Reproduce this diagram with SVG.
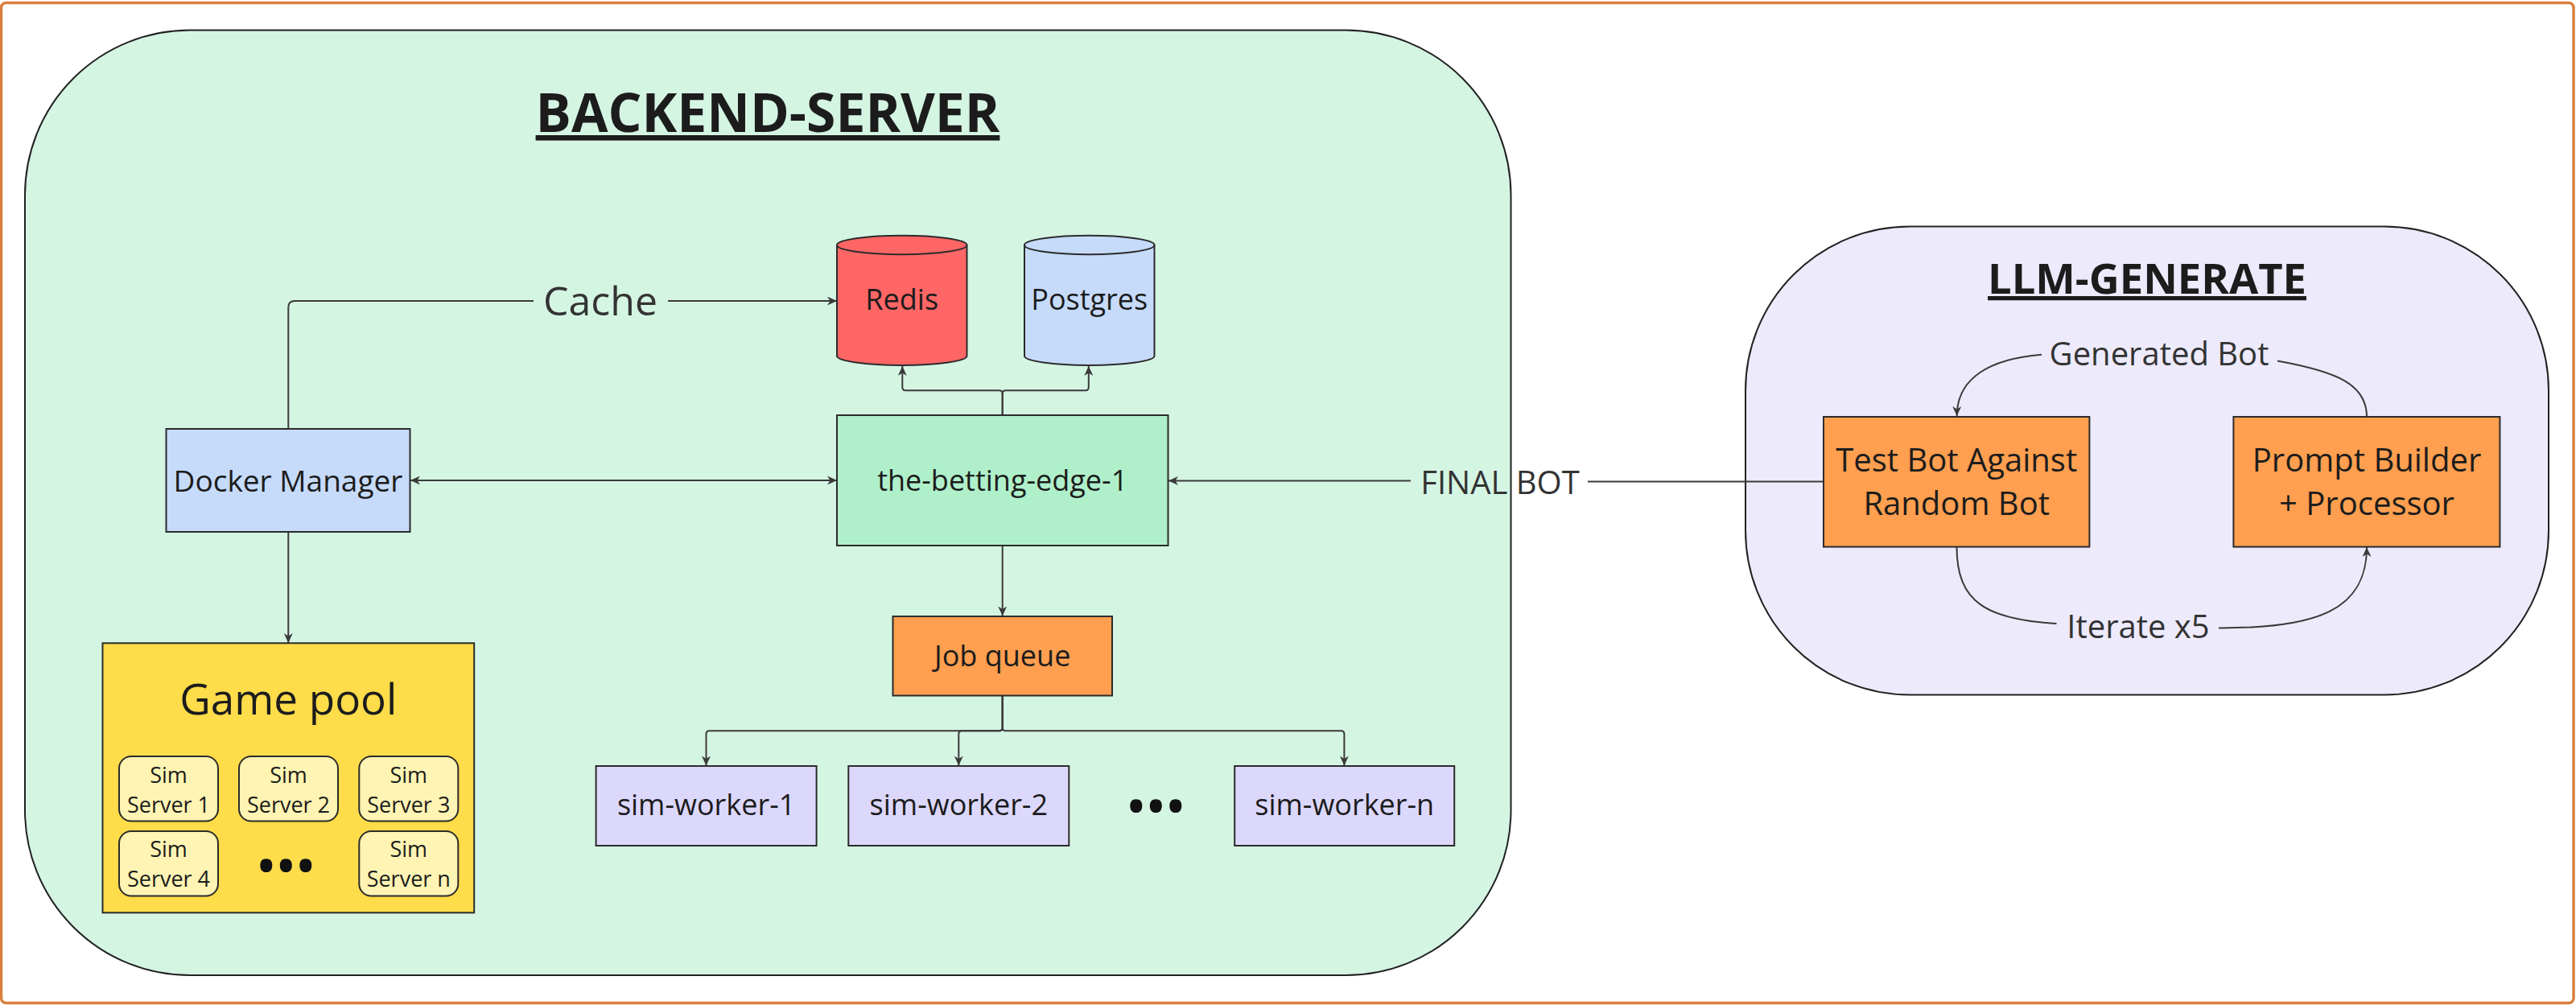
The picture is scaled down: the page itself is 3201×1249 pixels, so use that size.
<svg xmlns="http://www.w3.org/2000/svg" width="3201" height="1249" viewBox="0 0 3201 1249">
<style>
text{font-family:"Open Sans","Noto Sans","Liberation Sans",sans-serif;fill:#1c1c1c}
.box{stroke:#2b2b2b;stroke-width:2}
.n36{font-size:36px;text-anchor:middle}
.sim{font-size:27px;text-anchor:middle}
.lbl{font-size:40px;text-anchor:middle;fill:#333}
.title{font-weight:bold;text-anchor:middle;text-decoration:underline}
.dots{font-size:72px;letter-spacing:-2.6px;text-anchor:middle;fill:#111}
.edge{fill:none;stroke:#3a3a3a;stroke-width:2}
</style>
<defs>
<marker id="arr" markerWidth="13" markerHeight="11" refX="12" refY="5.5" orient="auto-start-reverse" markerUnits="userSpaceOnUse">
<path d="M0,0 L12,5.5 L0,11 L3.5,5.5 Z" fill="#3a3a3a"/>
</marker>
</defs>
<rect x="0" y="0" width="3201" height="1249" fill="#ffffff"/>
<rect id="frame" x="1.5" y="3.5" width="3196.5" height="1243" rx="6" fill="#ffffff" stroke="#D97F3E" stroke-width="3.5"/>

<g id="backend-server">
<rect x="31" y="37.5" width="1846.5" height="1174.5" rx="205" fill="#D5F5E3" stroke="#222" stroke-width="2"/>
<text class="title" x="954" y="164" style="font-size:66px">BACKEND-SERVER</text>
</g>

<g id="llm-generate">
<rect x="2169" y="281.5" width="998" height="582" rx="204" fill="#EDEAFC" stroke="#222" stroke-width="2"/>
<text class="title" x="2668" y="365" style="font-size:52.5px">LLM-GENERATE</text>
</g>

<g id="connectors">
<path class="edge" d="M358.3 533 V382 Q358.3 374 366.3 374 H663"/>
<path class="edge" d="M830 374 H1040" marker-end="url(#arr)"/>
<path class="edge" d="M510 597 H1040" marker-start="url(#arr)" marker-end="url(#arr)"/>
<path class="edge" d="M358.3 661 V799" marker-end="url(#arr)"/>
<path class="edge" d="M1245.7 516 V489.3 Q1245.7 485.3 1241.7 485.3 H1125.3 Q1121.3 485.3 1121.3 481.3 V455" marker-end="url(#arr)"/>
<path class="edge" d="M1245.7 516 V489.3 Q1245.7 485.3 1249.7 485.3 H1348.8 Q1352.8 485.3 1352.8 481.3 V455" marker-end="url(#arr)"/>
<path class="edge" d="M1245.7 678 V765.5" marker-end="url(#arr)"/>
<path class="edge" d="M1245.7 864.5 V904.3 Q1245.7 908.3 1241.7 908.3 H881.5 Q877.5 908.3 877.5 912.3 V951.5" marker-end="url(#arr)"/>
<path class="edge" d="M1245.7 864.5 V904.3 Q1245.7 908.3 1241.7 908.3 H1195.3 Q1191.3 908.3 1191.3 912.3 V951.5" marker-end="url(#arr)"/>
<path class="edge" d="M1245.7 864.5 V904.3 Q1245.7 908.3 1249.7 908.3 H1666.4 Q1670.4 908.3 1670.4 912.3 V951.5" marker-end="url(#arr)"/>
<path class="edge" d="M2266 598.5 H1973"/>
<path class="edge" d="M1753 597.5 H1452" marker-end="url(#arr)"/>
<path class="edge" d="M2941 518 C2941 478 2905 462 2830 448.5"/>
<path class="edge" d="M2537 440.7 C2472 446 2431.7 470 2431.7 517" marker-end="url(#arr)"/>
<path class="edge" d="M2431.5 680 C2431.5 748 2468 770 2555.5 775"/>
<path class="edge" d="M2757 780.4 C2880 781 2941 758 2941 680" marker-end="url(#arr)"/>
<text class="lbl" x="746" y="392" style="font-size:50px">Cache</text>
<text class="lbl" x="1864" y="614">FINAL BOT</text>
<text class="lbl" x="2683" y="454">Generated Bot</text>
<text class="lbl" x="2657" y="793">Iterate x5</text>
</g>

<g id="docker-manager">
<rect class="box" x="206.5" y="533" width="303" height="128" fill="#C6DBFA"/>
<text class="n36" x="358" y="611" style="font-size:37px">Docker Manager</text>
</g>

<g id="redis">
<path class="box" d="M1040 304.5 A80.75 11.7 0 0 1 1201.5 304.5 V442.3 A80.75 11.7 0 0 1 1040 442.3 Z" fill="#FF6666"/>
<path class="box" d="M1040 304.5 A80.75 11.7 0 0 0 1201.5 304.5" fill="none"/>
<text class="n36" x="1120.7" y="385">Redis</text>
</g>

<g id="postgres">
<path class="box" d="M1273 304.5 A80.75 11.7 0 0 1 1434.5 304.5 V442.3 A80.75 11.7 0 0 1 1273 442.3 Z" fill="#C6DBFA"/>
<path class="box" d="M1273 304.5 A80.75 11.7 0 0 0 1434.5 304.5" fill="none"/>
<text class="n36" x="1353.7" y="385">Postgres</text>
</g>

<g id="the-betting-edge-1">
<rect class="box" x="1040" y="516" width="411.5" height="162" fill="#AFF0CA"/>
<text class="n36" x="1245.7" y="610">the-betting-edge-1</text>
</g>

<g id="job-queue">
<rect class="box" x="1109.5" y="766" width="272.5" height="98.5" fill="#FF9F4F"/>
<text class="n36" x="1245.7" y="828">Job queue</text>
</g>

<g id="sim-worker-1">
<rect class="box" x="740.6" y="952" width="274" height="99" fill="#DCD8FC"/>
<text class="n36" x="877.6" y="1013">sim-worker-1</text>
</g>
<g id="sim-worker-2">
<rect class="box" x="1054.3" y="952" width="274" height="99" fill="#DCD8FC"/>
<text class="n36" x="1191.3" y="1013">sim-worker-2</text>
</g>
<g id="worker-dots">
<text class="dots" x="1435" y="1028">•••</text>
</g>
<g id="sim-worker-n">
<rect class="box" x="1534.2" y="952" width="273" height="99" fill="#DCD8FC"/>
<text class="n36" x="1670.7" y="1013">sim-worker-n</text>
</g>

<g id="game-pool">
<rect class="box" x="127.5" y="799.3" width="461.7" height="335" fill="#FFDC4A"/>
<text x="358.3" y="887.6" font-size="53" text-anchor="middle">Game pool</text>
<g id="sim-server-1">
<rect class="box" x="148" y="940" width="123" height="80.5" rx="15" fill="#FFF4B3"/>
<text class="sim" x="209.5" y="972.5">Sim</text>
<text class="sim" x="209.5" y="1009.5">Server 1</text>
</g>
<g id="sim-server-2">
<rect class="box" x="297" y="940" width="123" height="80.5" rx="15" fill="#FFF4B3"/>
<text class="sim" x="358.5" y="972.5">Sim</text>
<text class="sim" x="358.5" y="1009.5">Server 2</text>
</g>
<g id="sim-server-3">
<rect class="box" x="446.3" y="940" width="123" height="80.5" rx="15" fill="#FFF4B3"/>
<text class="sim" x="507.8" y="972.5">Sim</text>
<text class="sim" x="507.8" y="1009.5">Server 3</text>
</g>
<g id="sim-server-4">
<rect class="box" x="148" y="1033" width="123" height="80.5" rx="15" fill="#FFF4B3"/>
<text class="sim" x="209.5" y="1065">Sim</text>
<text class="sim" x="209.5" y="1102">Server 4</text>
</g>
<text class="dots" x="354" y="1102">•••</text>
<g id="sim-server-n">
<rect class="box" x="446.3" y="1033" width="123" height="80.5" rx="15" fill="#FFF4B3"/>
<text class="sim" x="507.8" y="1065">Sim</text>
<text class="sim" x="507.8" y="1102">Server n</text>
</g>
</g>

<g id="test-bot">
<rect class="box" x="2266" y="518" width="330.4" height="161.6" fill="#FF9F4F"/>
<text x="2431.2" y="586" font-size="40" text-anchor="middle">Test Bot Against</text>
<text x="2431.2" y="640" font-size="40" text-anchor="middle">Random Bot</text>
</g>

<g id="prompt-builder">
<rect class="box" x="2775.4" y="518" width="331" height="161.6" fill="#FF9F4F"/>
<text x="2941" y="586" font-size="40" text-anchor="middle">Prompt Builder</text>
<text x="2941" y="640" font-size="40" text-anchor="middle">+ Processor</text>
</g>
</svg>
